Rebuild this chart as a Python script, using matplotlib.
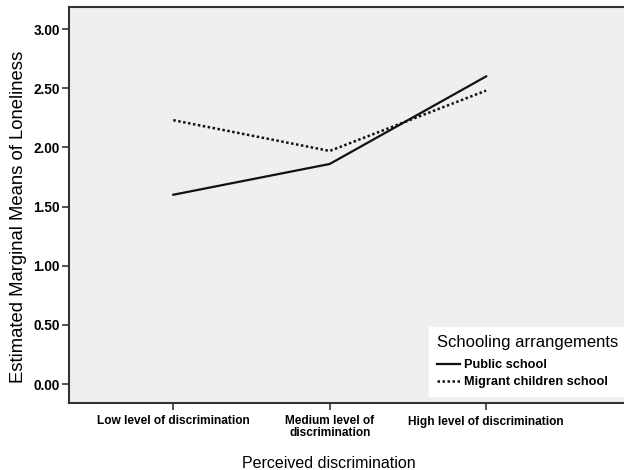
import matplotlib
matplotlib.use("Agg")
import matplotlib.pyplot as plt

# Perceived discrimination levels
categories = ['Low level of discrimination', 'Medium level of\ndiscrimination',
              'High level of discrimination']
public_school = [1.60, 1.86, 2.60]
migrant_school = [2.23, 1.97, 2.48]
y_ticks = [0.0, 0.5, 1.0, 1.5, 2.0, 2.5, 3.0]

plt.rcParams['font.family'] = ['Liberation Sans', 'DejaVu Sans']

fig = plt.figure(figsize=(6.24, 4.70), dpi=100)
ax_left, ax_right = 69.3, 640.0
ax_top, ax_bottom = 7.3, 403.0
ax = fig.add_axes([ax_left / 624, (470 - ax_bottom) / 470,
                   (ax_right - ax_left) / 624, (ax_bottom - ax_top) / 470])
ax.set_facecolor('#efefef')

x = range(len(categories))
ax.plot(x, public_school, color='#111111', linewidth=1.6, label='Public school')
ax.plot(x, migrant_school, color='#111111', linewidth=1.8, linestyle=(0, (1, 1)),
        label='Migrant children school')

ax.set_xlim(-0.665, 2.984)
ax.set_ylim(-0.16, 3.184)
ax.set_xticks(list(x))
ax.set_xticklabels(categories, fontsize=8.6, fontweight='bold', linespacing=0.95)
ax.set_yticks(y_ticks)
ax.set_yticklabels(['%.2f' % v for v in y_ticks], fontsize=9.8, fontweight='bold')
ax.tick_params(direction='out', length=5, width=1.2, color='#333333', pad=2)
ax.tick_params(axis='x', pad=4)

for side in ['left', 'bottom', 'top', 'right']:
    ax.spines[side].set_color('#333333')
    ax.spines[side].set_linewidth(1.5)

ax.set_ylabel('Estimated Marginal Means of Loneliness', fontsize=13.3)
ax.yaxis.set_label_coords((27 - ax_left) / (ax_right - ax_left),
                          (ax_bottom - 217) / (ax_bottom - ax_top))
ax.set_xlabel('Perceived discrimination', fontsize=11.5, labelpad=12)
# centre the x title under the middle category
ax.xaxis.label.set_x((329 - ax_left) / (ax_right - ax_left))

leg = ax.legend(title='Schooling arrangements', loc='lower left',
                bbox_to_anchor=(429 / 624, (470 - 396) / 470), bbox_transform=fig.transFigure,
                frameon=True, fancybox=False, facecolor='white', edgecolor='white',
                framealpha=1, prop={'weight': 'bold', 'size': 9.2},
                handlelength=1.8, handletextpad=0.3, labelspacing=0.4,
                borderpad=0.6, borderaxespad=0)
leg.get_title().set_fontsize(12)
leg._legend_box.align = 'left'
leg._legend_box.sep = 7

fig.savefig('out.png', dpi=100)
